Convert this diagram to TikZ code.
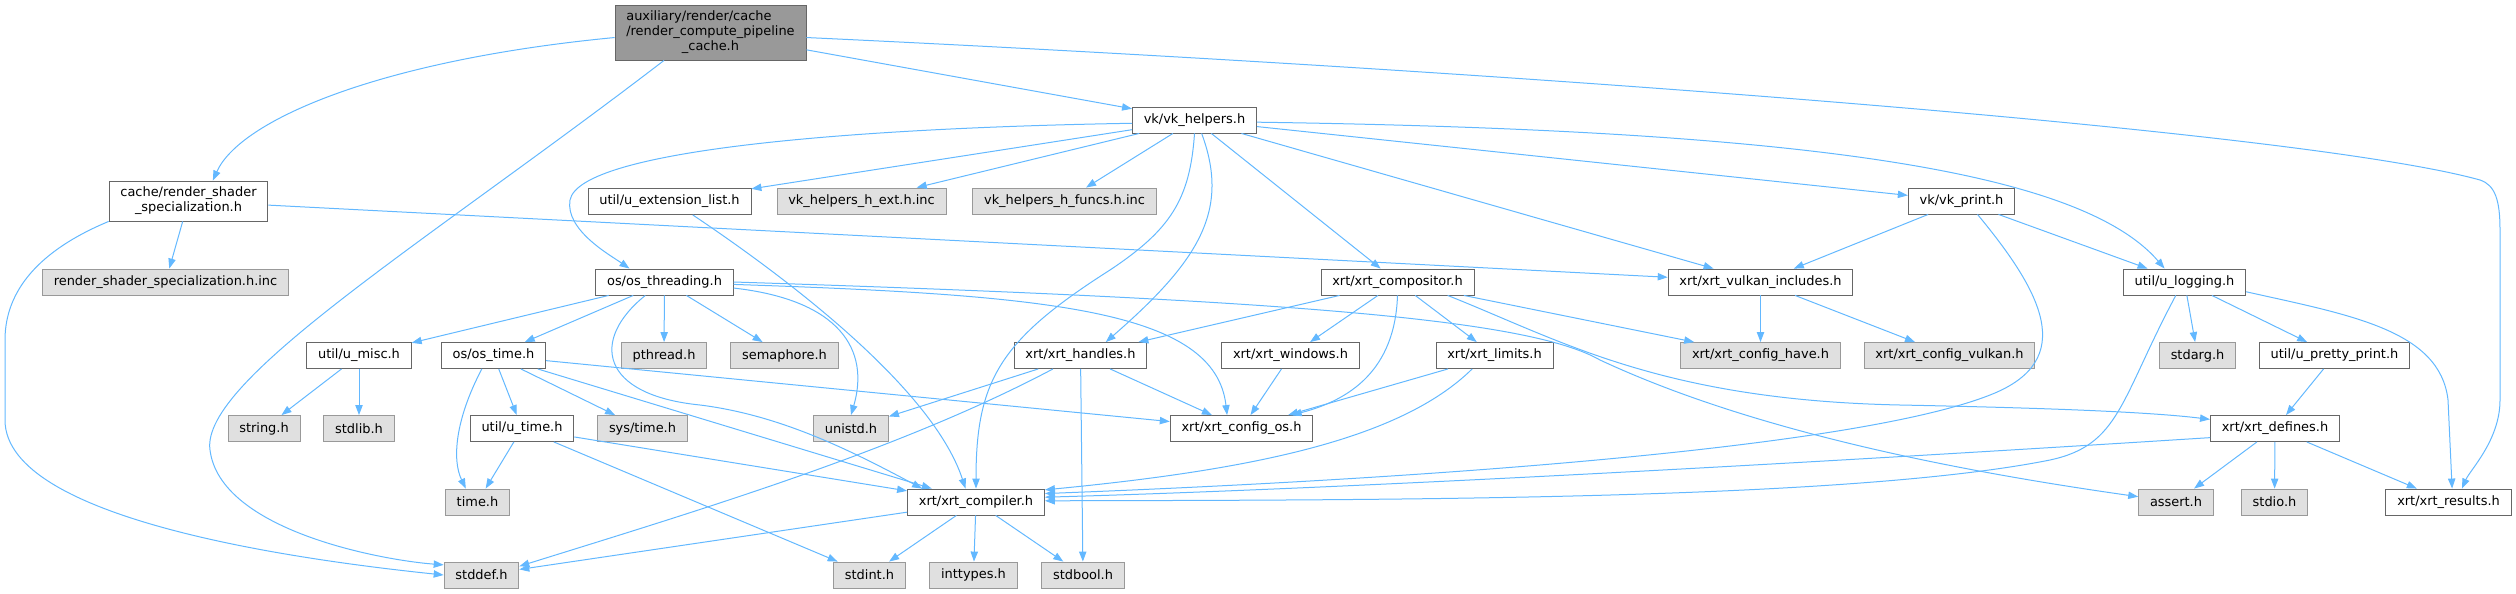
\documentclass[tikz,border=0pt]{standalone}
\usepackage{fontspec}
\setmainfont{DejaVu Sans}
\usetikzlibrary{arrows.meta}
\definecolor{edgeblue}{HTML}{63B8FF}
\definecolor{boxline}{HTML}{666666}
\definecolor{sysline}{HTML}{999999}
\definecolor{sysfill}{HTML}{E0E0E0}
\definecolor{rootfill}{HTML}{999999}
\begin{document}
\begin{tikzpicture}[
	x=0.75pt, y=-0.75pt,
	hdr/.style={
		draw=boxline, fill=white, line width=0.65pt,
		inner xsep=8.5pt, inner ysep=2pt, minimum height=19.5pt,
		font=\fontsize{9.7}{11.25}\selectfont
	},
	syshdr/.style={hdr, draw=sysline, fill=sysfill},
	roothdr/.style={hdr, fill=rootfill},
	dep/.style={draw=edgeblue, line width=0.75pt, -{Triangle[length=7.5pt,width=5.5pt]}}
]
	\useasboundingbox (0,0) rectangle (2516,593);
	% Headers
	\node[roothdr, minimum height=41.25pt] (root) at (710.5,32.5)
		{\begin{tabular}{@{}l@{}}auxiliary/render/cache\\/render\_compute\_pipeline\\\multicolumn{1}{@{}c@{}}{\_cache.h}\end{tabular}};
	\node[hdr] (vkh) at (1194.5,120) {vk/vk\_helpers.h};
	\node[hdr, align=center, minimum height=30pt] (spec) at (188.5,201) {cache/render\_shader\\\_specialization.h};
	\node[hdr] (extlist) at (669.5,201.5) {util/u\_extension\_list.h};
	\node[syshdr] (hext) at (861.5,201) {vk\_helpers\_h\_ext.h.inc};
	\node[syshdr] (hfuncs) at (1064.5,201) {vk\_helpers\_h\_funcs.h.inc};
	\node[hdr] (vkprint) at (1961.5,201) {vk/vk\_print.h};
	\node[syshdr] (specinc) at (165.5,282) {render\_shader\_specialization.h.inc};
	\node[hdr] (osthr) at (664.5,282) {os/os\_threading.h};
	\node[hdr] (comp) at (1397.5,282) {xrt/xrt\_compositor.h};
	\node[hdr] (vkinc) at (1760.5,282) {xrt/xrt\_vulkan\_includes.h};
	\node[hdr] (logging) at (2184.5,282) {util/u\_logging.h};
	\node[hdr] (umisc) at (359,355.5) {util/u\_misc.h};
	\node[hdr] (ostime) at (493.5,355.5) {os/os\_time.h};
	\node[syshdr] (pthread) at (664,355.5) {pthread.h};
	\node[syshdr] (sema) at (784.5,355.5) {semaphore.h};
	\node[hdr] (handles) at (1080.5,355.5) {xrt/xrt\_handles.h};
	\node[hdr] (windows) at (1290.5,355.5) {xrt/xrt\_windows.h};
	\node[hdr] (limits) at (1494.5,355.5) {xrt/xrt\_limits.h};
	\node[syshdr] (cfghave) at (1760.5,355.5) {xrt/xrt\_config\_have.h};
	\node[syshdr] (cfgvulk) at (1949.5,355.5) {xrt/xrt\_config\_vulkan.h};
	\node[syshdr] (stdarg) at (2197.5,355.5) {stdarg.h};
	\node[hdr] (pretty) at (2334.5,355.5) {util/u\_pretty\_print.h};
	\node[syshdr] (string) at (264,428.5) {string.h};
	\node[syshdr] (stdlib) at (359,428.5) {stdlib.h};
	\node[hdr] (utime) at (522,428.5) {util/u\_time.h};
	\node[syshdr] (systime) at (642.5,428.5) {sys/time.h};
	\node[syshdr] (unistd) at (851,428.5) {unistd.h};
	\node[hdr] (cfgos) at (1241.5,428.5) {xrt/xrt\_config\_os.h};
	\node[hdr] (defines) at (2275,428.5) {xrt/xrt\_defines.h};
	\node[syshdr] (timeh) at (477.5,502) {time.h};
	\node[hdr] (compiler) at (976,502) {xrt/xrt\_compiler.h};
	\node[syshdr] (assert) at (2176,502) {assert.h};
	\node[syshdr] (stdio) at (2274.5,502) {stdio.h};
	\node[hdr] (results) at (2448.5,502) {xrt/xrt\_results.h};
	\node[syshdr] (stddef) at (481.5,575) {stddef.h};
	\node[syshdr] (stdint) at (869.5,575) {stdint.h};
	\node[syshdr] (inttypes) at (973.5,575) {inttypes.h};
	\node[syshdr] (stdbool) at (1083,575) {stdbool.h};

	% Straight includes
	\foreach \from/\to in {root/vkh, spec/specinc, spec/vkinc, vkh/extlist, vkh/hext,
		vkh/hfuncs, vkh/comp, vkh/vkinc, vkh/vkprint, vkprint/vkinc, vkprint/logging,
		vkinc/cfghave, vkinc/cfgvulk, logging/stdarg, logging/pretty, pretty/defines,
		defines/assert, defines/stdio, defines/results, osthr/umisc, osthr/ostime,
		osthr/pthread, osthr/sema, umisc/string, umisc/stdlib, ostime/utime,
		ostime/systime, ostime/compiler, ostime/cfgos, utime/timeh, utime/stdint,
		utime/compiler, comp/handles, comp/windows, comp/limits, comp/cfghave,
		handles/unistd, handles/stdbool, handles/cfgos, windows/cfgos, limits/cfgos,
		compiler/stddef, compiler/stdint, compiler/inttypes, compiler/stdbool}
		\draw[dep] (\from) -- (\to);

	% Curved includes
	\draw[dep] (root.183) .. controls (380,60) and (240,120) .. (spec.40);
	\draw[dep] (root.211) .. controls (430,240) and (200,380) .. (210,450)
		.. controls (220,530) and (380,560) .. (stddef.165);
	\draw[dep] (root.-3) .. controls (1500,70) and (2300,130) .. (2480,180)
		.. controls (2495,185) and (2500,200) .. (2500,230) -- (2500,400)
		.. controls (2500,440) and (2470,470) .. (results.45);
	\draw[dep] (spec.south west) .. controls (40,250) and (5,290) .. (5,340) -- (5,420)
		.. controls (5,520) and (300,560) .. (stddef.180);
	\draw[dep] (vkh.183) .. controls (850,128) and (580,150) .. (570,200)
		.. controls (565,230) and (610,255) .. (osthr.159);
	\draw[dep] (vkh.south) .. controls (1190,200) and (1170,230) .. (1110,270)
		.. controls (1000,340) and (976,380) .. (compiler.north);
	\draw[dep] (vkh.-62) .. controls (1230,210) and (1200,260) .. (handles.28);
	\draw[dep] (vkh.-2) .. controls (1800,130) and (2080,170) .. (logging.146);
	\draw[dep] (extlist.-30) .. controls (760,260) and (930,380) .. (compiler.128);
	\draw[dep] (vkprint.-40) .. controls (2040,290) and (2080,360) .. (1990,395)
		.. controls (1850,450) and (1400,480) .. (compiler.7);
	\draw[dep] (logging.-9) .. controls (2350,315) and (2440,330) .. (2448,400) -- (results.75);
	\draw[dep] (logging.237) .. controls (2120,400) and (2120,445) .. (2050,460)
		.. controls (1850,500) and (1400,500) .. (compiler.1);
	\draw[dep] (defines.188) .. controls (1700,470) and (1300,490) .. (compiler.4);
	\draw[dep] (osthr.-5) .. controls (840,300) and (870,350) .. (unistd.north);
	\draw[dep] (osthr.215) .. controls (590,340) and (600,395) .. (700,405)
		.. controls (780,415) and (850,450) .. (compiler.166);
	\draw[dep] (osthr.-2) .. controls (1050,295) and (1215,310) .. (cfgos.137);
	\draw[dep] (osthr.0) .. controls (1300,300) and (1530,320) .. (1600,360)
		.. controls (1750,430) and (1950,470) .. (assert.172);
	\draw[dep] (ostime.229) .. controls (455,420) and (452,460) .. (timeh.131);
	\draw[dep] (comp.south) .. controls (1395,370) and (1350,400) .. (cfgos.15);
	\draw[dep] (comp.-15) .. controls (1560,340) and (1660,400) .. (1900,405)
		.. controls (2050,408) and (2150,412) .. (defines.172);
	\draw[dep] (handles.206) .. controls (900,450) and (700,510) .. (stddef.13);
	\draw[dep] (limits.211) .. controls (1400,440) and (1250,470) .. (compiler.10);
\end{tikzpicture}
\end{document}
